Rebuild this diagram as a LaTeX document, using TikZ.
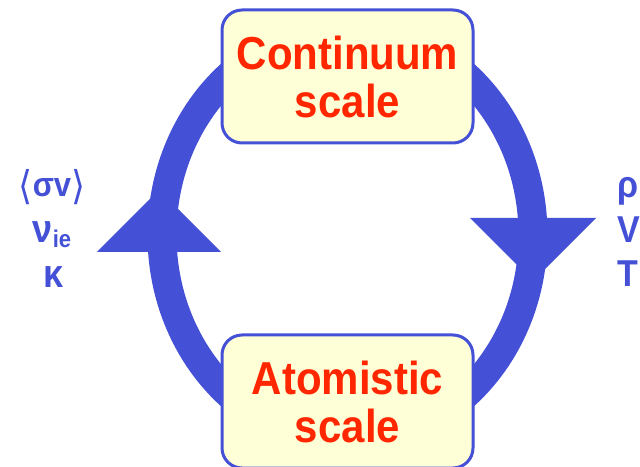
\documentclass[tikz,border=0pt]{standalone}
\usepackage{fontspec}
\setmainfont{Liberation Sans}
\newfontfamily\symfont{DejaVu Sans}
\usetikzlibrary{positioning}
\definecolor{ringblue}{RGB}{68,80,214}
\definecolor{boxred}{RGB}{255,38,0}
\definecolor{boxfill}{RGB}{255,255,215}
\newcommand{\tall}[1]{\scalebox{1}[1.1]{#1}}
\newcommand{\brk}[1]{{\symfont\mdseries\fontsize{36}{36}\selectfont\raisebox{-2pt}{#1}}}

\begin{document}
\begin{tikzpicture}[x=1pt, y=1pt,
    scalenode/.style={draw=ringblue, line width=3pt, fill=boxfill, rounded corners=20pt,
      minimum width=251pt, minimum height=133pt, inner sep=0pt, align=center,
      text=boxred, font=\fontsize{42}{48}\selectfont\bfseries},
    lbl/.style={text=ringblue, font=\fontsize{34}{34}\selectfont\bfseries, inner sep=0pt, anchor=base}]
    \useasboundingbox (0,0) rectangle (640,466);

    \coordinate (ctr) at (347.5,231);
    \draw[ringblue, line width=29pt] (ctr) ellipse [x radius=185.5pt, y radius=206.5pt];
    \fill[ringblue] (97,214) -- (221,214) -- (159,276) -- cycle;
    \fill[ringblue] (470,248) -- (596,248) -- (533,185) -- cycle;

    \node[scalenode] (cont) at (347.5,389.5) {\tall{Continuum}\\\tall{scale}};
    \node[scalenode] (atom) at (347.5,64.5) {\tall{Atomistic}\\\tall{scale}};

    \node[lbl, font=\fontsize{31}{31}\selectfont\bfseries] (rate) at (52,269) {\tall{\brk{⟨}σv\brk{⟩}}};
    \node[lbl, font=\fontsize{36}{36}\selectfont\bfseries] (freq) at (52,223) {\tall{ν\raisebox{-4pt}{\fontsize{22}{22}\selectfont ie}}};
    \node[lbl, font=\fontsize{36}{36}\selectfont\bfseries] (cond) at (54,178) {\tall{κ}};

    \node[lbl, anchor=base west] (dens) at (617,268) {\tall{ρ}};
    \node[lbl, anchor=base west] (vel) at (617,223) {\tall{V}};
    \node[lbl, anchor=base west] (temp) at (617,179) {\tall{T}};
\end{tikzpicture}
\end{document}
